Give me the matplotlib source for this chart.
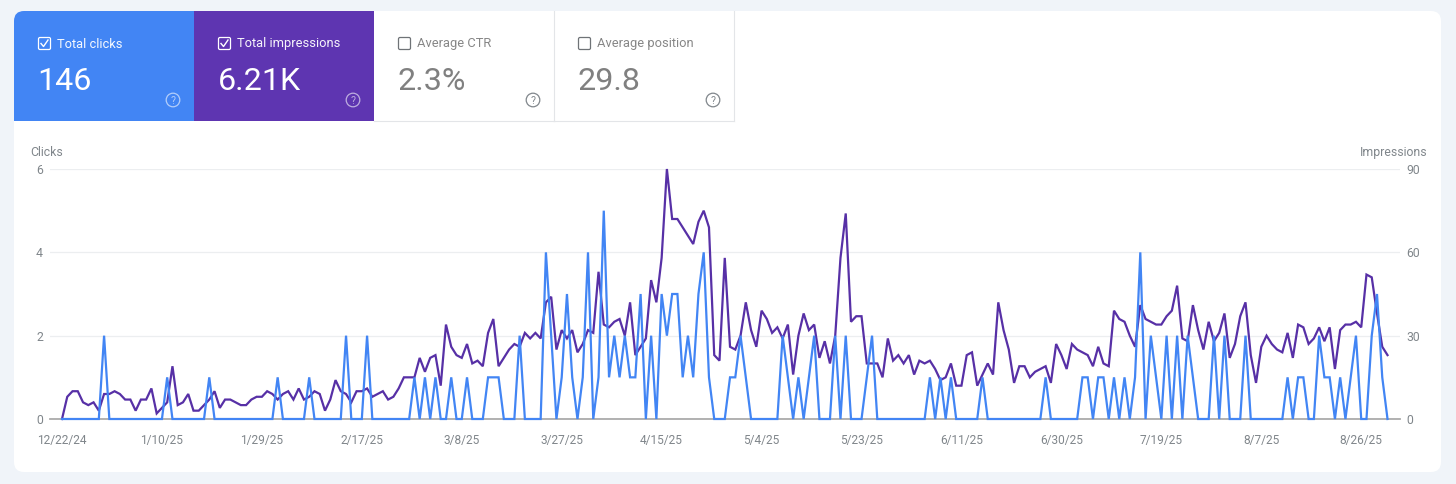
import pandas as pd
import numpy as np
import matplotlib.pyplot as plt
import matplotlib.dates as mdates
from matplotlib.patches import FancyBboxPatch, Rectangle, Circle

plt.rcParams['font.family'] = ['Roboto', 'DejaVu Sans']

start_date = '2024-12-22'
tick_dates = ['2024-12-22', '2025-01-10', '2025-01-29', '2025-02-17', '2025-03-08', '2025-03-27', '2025-04-15',
              '2025-05-04', '2025-05-23', '2025-06-11', '2025-06-30', '2025-07-19', '2025-08-07', '2025-08-26']
tick_labels = ['12/22/24', '1/10/25', '1/29/25', '2/17/25', '3/8/25', '3/27/25', '4/15/25',
               '5/4/25', '5/23/25', '6/11/25', '6/30/25', '7/19/25', '8/7/25', '8/26/25']

clicks = [0, 0, 0, 0, 0, 0, 0, 0, 2, 0, 0, 0, 0, 0, 0, 0, 0, 0, 0, 0, 1, 0, 0, 0, 0, 0, 0, 0, 1, 0,
          0, 0, 0, 0, 0, 0, 0, 0, 0, 0, 0, 1, 0, 0, 0, 0, 0, 1, 0, 0, 0, 0, 0, 0, 2, 0, 0, 0, 2, 0,
          0, 0, 0, 0, 0, 0, 0, 1, 0, 1, 0, 1, 0, 0, 1, 0, 0, 1, 0, 0, 0, 1, 1, 1, 0, 0, 0, 2, 0, 0,
          0, 0, 4, 2, 0, 1, 3, 1, 0, 1, 4, 0, 1, 5, 1, 2, 1, 2, 1, 1, 3, 0, 2, 0, 3, 2, 3, 3, 1, 2,
          1, 3, 4, 1, 0, 0, 0, 1, 1, 2, 1, 0, 0, 0, 0, 0, 0, 2, 1, 0, 1, 0, 1, 2, 0, 0, 0, 2, 0, 2,
          0, 0, 0, 1, 2, 0, 0, 0, 0, 0, 0, 0, 0, 0, 0, 1, 0, 1, 0, 1, 0, 0, 0, 0, 0, 1, 0, 0, 0, 0,
          0, 0, 0, 0, 0, 0, 0, 1, 0, 0, 0, 0, 0, 0, 1, 1, 0, 1, 1, 0, 1, 0, 1, 0, 1, 4, 0, 2, 1, 0,
          2, 0, 2, 0, 2, 1, 0, 0, 0, 2, 0, 2, 0, 0, 0, 2, 0, 0, 0, 0, 0, 0, 0, 1, 0, 1, 1, 0, 0, 2,
          1, 1, 0, 1, 0, 1, 2, 0, 0, 2, 3, 1, 0]

impressions = [0, 8, 10, 10, 6, 5, 6, 3, 9, 9, 10, 9, 7, 7, 3, 7, 7, 11, 2, 4, 6, 19, 5, 6, 9, 3, 3, 5, 7, 10,
               4, 7, 7, 6, 5, 5, 7, 8, 8, 10, 9, 7, 9, 10, 7, 11, 7, 8, 10, 9, 3, 7, 14, 10, 9, 6, 10, 10, 11, 8,
               9, 10, 7, 8, 11, 15, 15, 15, 22, 17, 22, 23, 12, 34, 26, 23, 22, 27, 20, 21, 19, 31, 36, 19, 22, 25, 27, 26, 31, 29,
               31, 29, 42, 44, 25, 32, 29, 32, 24, 27, 32, 31, 53, 34, 33, 35, 36, 30, 42, 23, 26, 29, 50, 42, 58, 90, 72, 72, 69, 66,
               63, 71, 75, 69, 23, 21, 58, 26, 25, 30, 42, 32, 26, 39, 36, 31, 33, 29, 34, 16, 30, 38, 32, 34, 22, 28, 20, 30, 58, 74,
               35, 37, 37, 20, 20, 20, 15, 29, 21, 23, 20, 23, 16, 21, 20, 21, 18, 14, 15, 20, 12, 12, 23, 24, 12, 16, 20, 16, 42, 32,
               25, 13, 19, 19, 15, 17, 18, 19, 13, 27, 23, 18, 27, 25, 24, 23, 19, 26, 20, 19, 39, 36, 35, 30, 26, 41, 36, 35, 34, 34,
               37, 39, 48, 29, 28, 41, 32, 25, 35, 28, 31, 38, 22, 27, 37, 42, 23, 13, 26, 30, 27, 25, 24, 31, 22, 34, 33, 27, 29, 33,
               28, 33, 18, 32, 34, 34, 35, 33, 52, 51, 38, 26, 23]

metric_names = ['Total clicks', 'Total impressions', 'Average CTR', 'Average position']
metric_values = ['146', '6.21K', '2.3%', '29.8']
metric_on = [True, True, False, False]
metric_colors = ['#4285f4', '#5e35b1', 'white', 'white']

click_ticks = [0, 2, 4, 6]
impression_ticks = [0, 30, 60, 90]

W, H = 1456, 484
BLUE = '#4285f4'
PURPLE = '#5730a6'
GREY = '#80868b'

fig = plt.figure(figsize=(W / 100, H / 100), dpi=100, facecolor='#f0f4f9')

# page chrome in pixel coords
bg = fig.add_axes([0, 0, 1, 1])
bg.set_xlim(0, W)
bg.set_ylim(H, 0)
bg.axis('off')

card = FancyBboxPatch((14, 11), 1427, 461, boxstyle='round,pad=0,rounding_size=10', fc='white', ec='none')
bg.add_patch(card)

for i in range(4):
    x0 = 14 + 180 * i
    on = metric_on[i]
    tile = Rectangle((x0, 11), 180, 110, fc=metric_colors[i], ec='none')
    bg.add_patch(tile)
    tile.set_clip_path(card)
    if not on:
        bg.plot([x0, x0 + 179.5], [121, 121], color='#e3e5e8', lw=0.8)
        bg.plot([x0 + 179.5, x0 + 179.5], [11, 121], color='#e3e5e8', lw=0.8)
    fg = 'white' if on else '#808080'
    box_ec = 'white' if on else '#6f7377'
    bg.add_patch(FancyBboxPatch((x0 + 24.5, 37.5), 12, 12, boxstyle='round,pad=0,rounding_size=1.5', fc='none', ec=box_ec, lw=0.9))
    if on:
        bg.plot([x0 + 27, x0 + 29.5, x0 + 34], [43.5, 46.5, 40], color='white', lw=1.0)
    bg.text(x0 + 43, 47.5, metric_names[i], color=fg, fontsize=9.3, va='baseline', ha='left', alpha=0.95)
    bg.text(x0 + 23.5, 89.5, metric_values[i], color=fg, fontsize=23.2, va='baseline', ha='left')
    icon = 'white' if on else '#80868b'
    bg.add_patch(Circle((x0 + 159, 100), 6.8, fc='none', ec=icon, lw=0.9, alpha=0.6 if on else 1))
    bg.text(x0 + 159, 100.5, '?', color=icon, fontsize=7.5, ha='center', va='center', alpha=0.6 if on else 1)

bg.text(30, 156, 'Clicks', color=GREY, fontsize=8.8, ha='left', va='baseline')
bg.text(1427.5, 156, 'Impressions', color=GREY, fontsize=8.8, ha='right', va='baseline')

# chart, 50..1400 px wide and 169..419 px tall
dates = pd.date_range(start_date, periods=len(clicks), freq='D')
ax = fig.add_axes([50 / W, 1 - 419 / H, 1350 / W, 250 / H])
ax2 = ax.twinx()
ax.set_zorder(ax2.get_zorder() + 1)
ax.patch.set_visible(False)

ax2.plot(dates, impressions, color=PURPLE, lw=1.6, clip_on=False, solid_joinstyle='miter')
ax.plot(dates, clicks, color=BLUE, lw=1.6, clip_on=False, solid_joinstyle='miter')

day0 = mdates.date2num(dates[0])
ax.set_xlim(day0 - 12 / 5.26, day0 - 12 / 5.26 + 1350 / 5.26)
ax.set_ylim(0, 6)
ax2.set_ylim(0, 90)

ax.set_xticks(pd.to_datetime(tick_dates))
ax.set_xticklabels(tick_labels)
ax.set_yticks(click_ticks)
ax2.set_yticks(impression_ticks)

ax2.grid(axis='y', color='#eceef0', lw=0.9)
ax2.set_axisbelow(True)
for a in (ax, ax2):
    for s in a.spines.values():
        s.set_visible(False)
ax2.spines['bottom'].set_visible(True)
ax2.spines['bottom'].set_color('#ababab')
ax2.spines['bottom'].set_linewidth(1.3)

ax.tick_params(axis='x', length=0, pad=11, labelsize=8.6, labelcolor=GREY)
ax.tick_params(axis='y', length=0, pad=5, labelsize=8.8, labelcolor=GREY)
ax2.tick_params(axis='y', length=0, pad=4.5, labelsize=8.8, labelcolor=GREY)

fig.savefig('out.png', dpi=100, facecolor=fig.get_facecolor())
